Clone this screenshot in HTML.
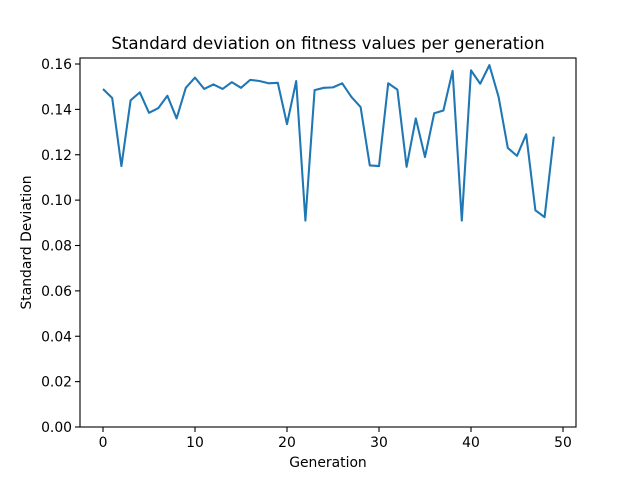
<!DOCTYPE html>
<html><head><meta charset="utf-8"><style>
body{margin:0;background:#fff;font-family:"Liberation Sans","DejaVu Sans",sans-serif}
svg text{font-family:"DejaVu Sans","Liberation Sans",sans-serif;fill:#000}
</style></head><body>
<svg id="c" width="640" height="480">
<rect width="640" height="480" fill="#fff"/>
<text x="328" y="49" font-size="16.67" text-anchor="middle">Standard deviation on fitness values per generation</text>
<g id="ticks"></g>
<path id="line" fill="none" stroke="#1f77b4" stroke-width="2.08" stroke-linejoin="round"/>
<rect x="80" y="58" width="496" height="369" fill="none" stroke="#000" stroke-width="1.1"/>
<text x="328" y="467" font-size="13.9" text-anchor="middle">Generation</text>
<text x="0" y="0" font-size="13.9" text-anchor="middle" transform="translate(31,242.5) rotate(-90)">Standard Deviation</text>
</svg>
<script>
const generations=[0,1,2,3,4,5,6,7,8,9,10,11,12,13,14,15,16,17,18,19,20,21,22,23,24,25,26,27,28,29,30,31,32,33,34,35,36,37,38,39,40,41,42,43,44,45,46,47,48,49];
const stdValues=[.149,.145,.115,.144,.1475,.1385,.1405,.146,.136,.1495,.154,.149,.151,.149,.152,.1495,.153,.1525,.1515,.1517,.1335,.1525,.091,.1485,.1495,.1497,.1515,.1455,.141,.1153,.115,.1515,.1487,.1147,.136,.119,.1383,.1395,.157,.091,.1572,.1513,.1595,.1455,.123,.1195,.129,.0955,.0925,.128];
const xTicks=[0,10,20,30,40,50];
const yTicks=[0,0.02,0.04,0.06,0.08,0.10,0.12,0.14,0.16];
const xs=v=>103+v*9.2;
const ys=v=>427-v*2268.75;
const NS="http://www.w3.org/2000/svg";
const g=document.getElementById('ticks');
xTicks.forEach(t=>{
 const l=document.createElementNS(NS,'line');
 l.setAttribute('x1',xs(t));l.setAttribute('x2',xs(t));l.setAttribute('y1',427);l.setAttribute('y2',432);l.setAttribute('stroke','#000');l.setAttribute('stroke-width','1.1');
 
 
 g.appendChild(l);
 const tx=document.createElementNS(NS,'text');
 tx.setAttribute('x',xs(t));tx.setAttribute('y',447);tx.setAttribute('font-size','13.9');tx.setAttribute('text-anchor','middle');tx.textContent=t;
 
 
 g.appendChild(tx);
});
yTicks.forEach(t=>{
 const l=document.createElementNS(NS,'line');
 l.setAttribute('x1',75);l.setAttribute('x2',80);l.setAttribute('y1',ys(t));l.setAttribute('y2',ys(t));l.setAttribute('stroke','#000');l.setAttribute('stroke-width','1.1');
 
 
 g.appendChild(l);
 const tx=document.createElementNS(NS,'text');
 tx.setAttribute('x',72);tx.setAttribute('y',ys(t)+5);tx.setAttribute('font-size','13.9');tx.setAttribute('text-anchor','end');tx.textContent=t.toFixed(2);
 
 
 g.appendChild(tx);
});
document.getElementById('line').setAttribute('d',generations.map((x,i)=>(i?'L':'M')+xs(x).toFixed(2)+','+ys(stdValues[i]).toFixed(2)).join(''));
</script>
</body></html>
